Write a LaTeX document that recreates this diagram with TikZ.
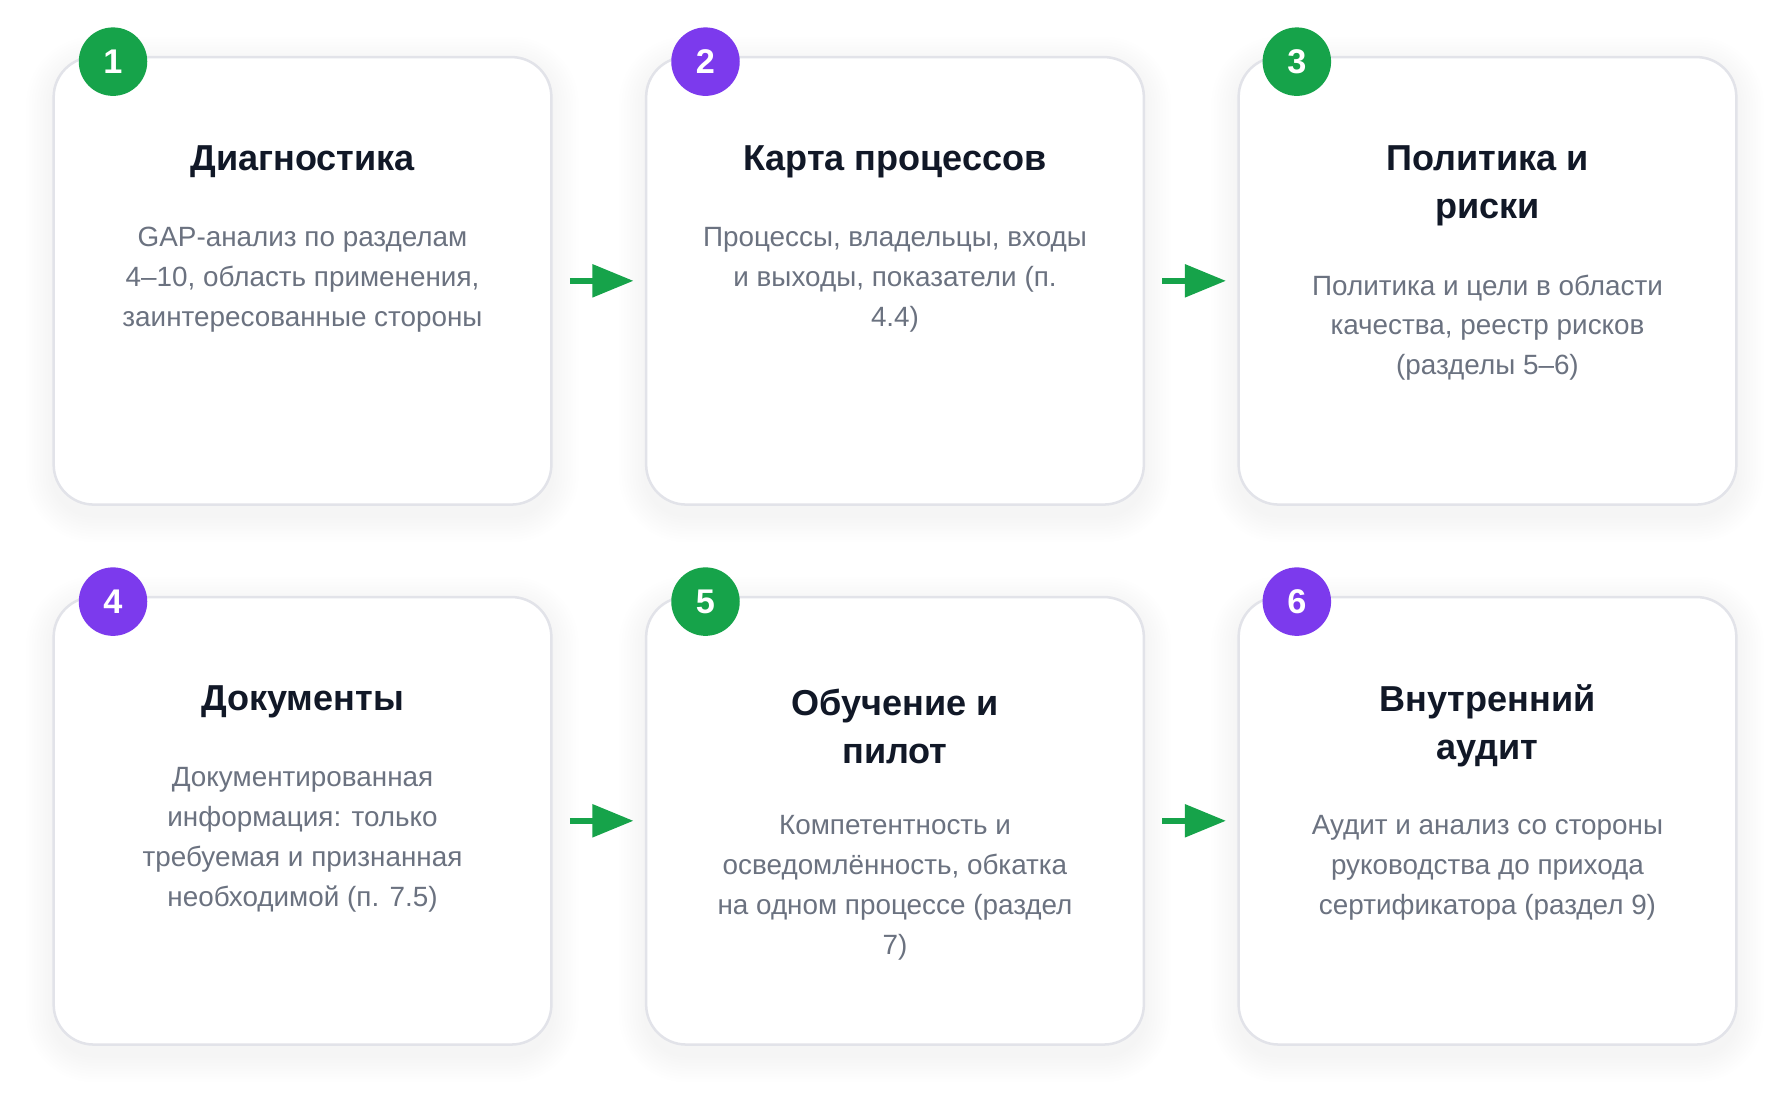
\documentclass[tikz,border=0pt]{standalone}
\usepackage{fontspec}
\setmainfont{Liberation Sans}
\usetikzlibrary{arrows.meta}
\definecolor{cGreen}{HTML}{16A34A}
\definecolor{cPurple}{HTML}{7C3AED}
\definecolor{cTitle}{HTML}{111827}
\definecolor{cBody}{HTML}{6B7280}
\definecolor{cBorder}{HTML}{E2E3E9}
\begin{document}
\begin{tikzpicture}[x=0.5pt,y=-0.5pt,
  card/.style={draw=cBorder, line width=1.1pt, fill=white, rounded corners=17.5pt,
    minimum width=218pt, minimum height=196pt, inner sep=0pt},
  num/.style={circle, minimum size=30pt, inner sep=0pt, text=white,
    font=\bfseries\fontsize{15}{17}\selectfont},
  ttl/.style={text=cTitle, align=center, font=\bfseries\fontsize{15.8}{21}\selectfont},
  bdy/.style={text=cBody, align=center, font=\fontsize{12.2}{17.5}\selectfont},
  arr/.style={draw=cGreen, line width=2.5pt, -{Triangle[length=18pt,width=14pt]}}]
\useasboundingbox (0,0) rectangle (1568,968);
% soft shadows
\foreach \cx/\cy in {265/246,784/246,1303/246,265/719,784/719,1303/719}{
  \foreach \i in {1,...,10}{
    \pgfmathsetmacro\rr{17.5+1.2*\i}
    \fill[black, opacity=0.0045, rounded corners=\rr pt]
      (\cx-218-2.4*\i, \cy-196-2.4*\i+6) rectangle (\cx+218+2.4*\i, \cy+196+2.4*\i+9);
  }
}
% cards
\node[card] (c1) at (265,246) {};
\node[card] (c2) at (784,246) {};
\node[card] (c3) at (1303,246) {};
\node[card] (c4) at (265,719) {};
\node[card] (c5) at (784,719) {};
\node[card] (c6) at (1303,719) {};
% badges
\node[num, fill=cGreen]  (n1) at (99,54) {1};
\node[num, fill=cPurple] (n2) at (618,54) {2};
\node[num, fill=cGreen]  (n3) at (1136,54) {3};
\node[num, fill=cPurple] (n4) at (99,527) {4};
\node[num, fill=cGreen]  (n5) at (618,527) {5};
\node[num, fill=cPurple] (n6) at (1136,527) {6};
% titles
\node[ttl] (t1) at (265,142) {Диагностика};
\node[ttl] (t2) at (784,142) {Карта процессов};
\node[ttl] (t3) at (1303,163) {Политика и\\риски};
\node[ttl] (t4) at (265,615) {Документы};
\node[ttl] (t5) at (784,636) {Обучение и\\пилот};
\node[ttl] (t6) at (1303,636) {Внутренний\\аудит};
% bodies
\node[bdy] (b1) at (265,245) {GAP-анализ по разделам\\4–10, область применения,\\заинтересованные стороны};
\node[bdy] (b2) at (784,245) {Процессы, владельцы, входы\\и выходы, показатели (п.\\4.4)};
\node[bdy] (b3) at (1303,287) {Политика и цели в области\\качества, реестр рисков\\(разделы 5–6)};
\node[bdy] (b4) at (265,735.5) {Документированная\\информация: только\\требуемая и признанная\\необходимой (п. 7.5)};
\node[bdy] (b5) at (784,777.5) {Компетентность и\\осведомлённость, обкатка\\на одном процессе (раздел\\7)};
\node[bdy] (b6) at (1303,760) {Аудит и анализ со стороны\\руководства до прихода\\сертификатора (раздел 9)};
% arrows
\draw[arr] ([xshift=7.5pt]c1.east) -- ([xshift=-5pt]c2.west);
\draw[arr] ([xshift=7.5pt]c2.east) -- ([xshift=-5pt]c3.west);
\draw[arr] ([xshift=7.5pt]c4.east) -- ([xshift=-5pt]c5.west);
\draw[arr] ([xshift=7.5pt]c5.east) -- ([xshift=-5pt]c6.west);
\end{tikzpicture}
\end{document}
